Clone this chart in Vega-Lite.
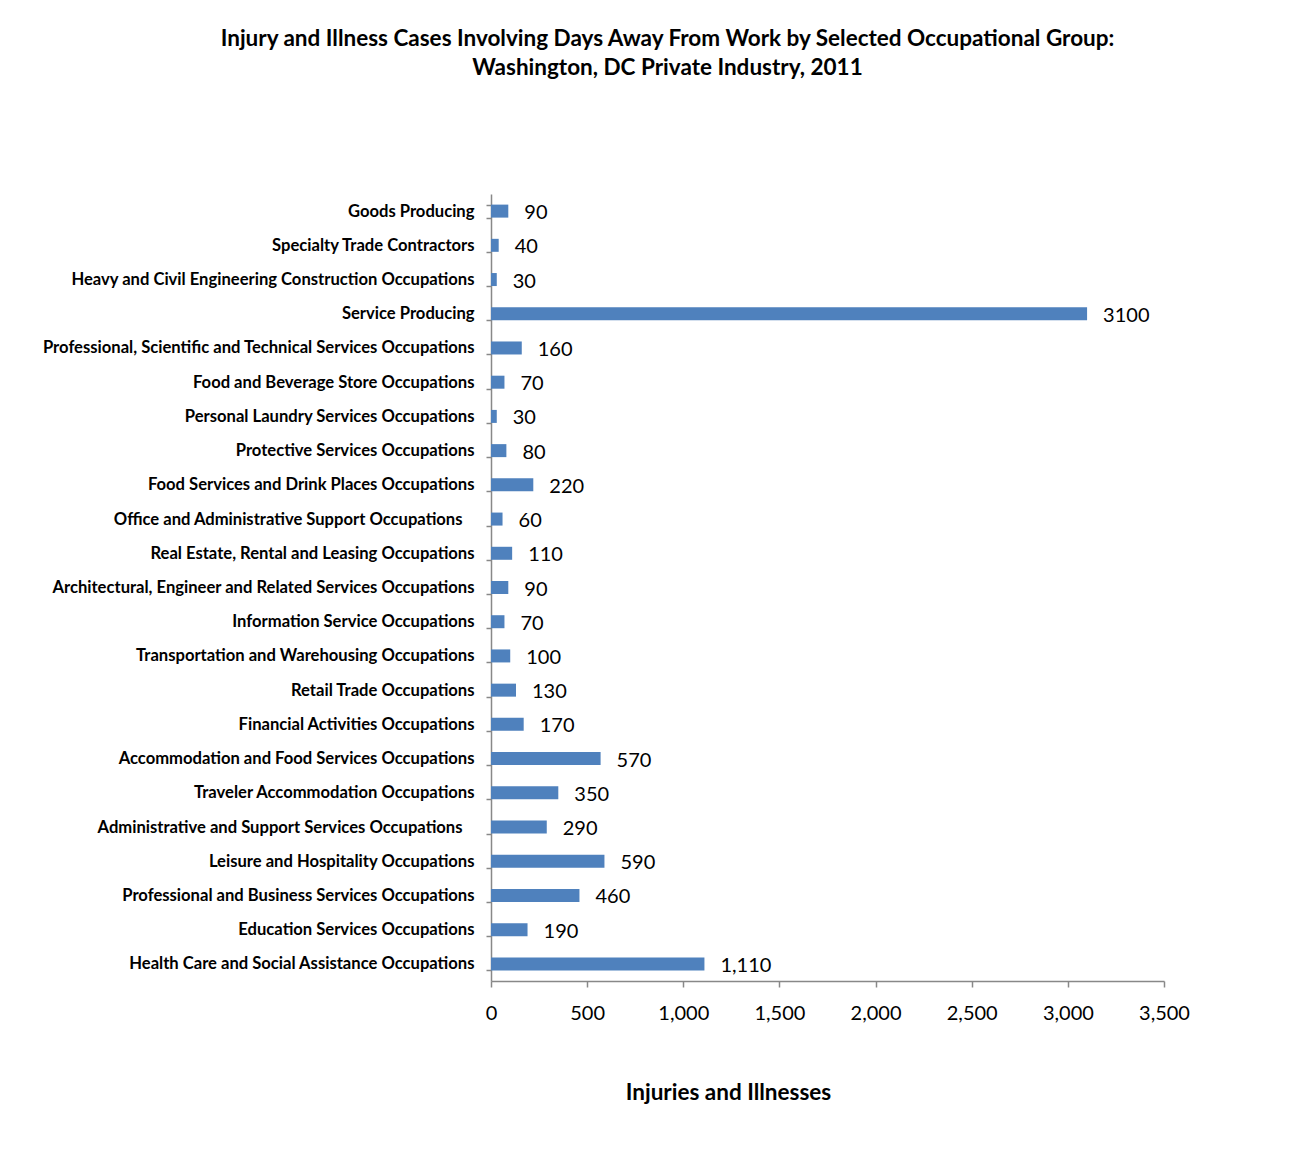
{
  "$schema": "https://vega.github.io/schema/vega-lite/v6.json",
  "autosize": "none",
  "width": 673,
  "height": 787,
  "padding": {"left": 491, "top": 194, "right": 133, "bottom": 189},
  "background": "white",
  "title": {
    "text": ["Injury and Illness Cases Involving Days Away From Work by Selected Occupational Group:", "Washington, DC Private Industry, 2011"],
    "font": "Lato",
    "fontSize": 22.5,
    "fontWeight": "bold",
    "color": "#000000",
    "anchor": "middle",
    "dx": -160,
    "offset": 107,
    "lineHeight": 29
  },
  "config": {
    "view": {"stroke": null},
    "font": "Lato"
  },
  "data": {
    "values": [
      {"group": "Goods Producing", "cases": 90, "label": "90"},
      {"group": "Specialty Trade Contractors", "cases": 40, "label": "40"},
      {"group": "Heavy and Civil Engineering Construction Occupations", "cases": 30, "label": "30"},
      {"group": "Service Producing", "cases": 3100, "label": "3100"},
      {"group": "Professional, Scientific and Technical Services Occupations", "cases": 160, "label": "160"},
      {"group": "Food and Beverage Store Occupations", "cases": 70, "label": "70"},
      {"group": "Personal Laundry Services Occupations", "cases": 30, "label": "30"},
      {"group": "Protective Services Occupations", "cases": 80, "label": "80"},
      {"group": "Food Services and Drink Places Occupations", "cases": 220, "label": "220"},
      {"group": "Office and Administrative Support Occupations", "cases": 60, "label": "60"},
      {"group": "Real Estate, Rental and Leasing Occupations", "cases": 110, "label": "110"},
      {"group": "Architectural, Engineer and Related Services Occupations", "cases": 90, "label": "90"},
      {"group": "Information Service Occupations", "cases": 70, "label": "70"},
      {"group": "Transportation and Warehousing Occupations", "cases": 100, "label": "100"},
      {"group": "Retail Trade Occupations", "cases": 130, "label": "130"},
      {"group": "Financial Activities Occupations", "cases": 170, "label": "170"},
      {"group": "Accommodation and Food Services Occupations", "cases": 570, "label": "570"},
      {"group": "Traveler Accommodation Occupations", "cases": 350, "label": "350"},
      {"group": "Administrative and Support Services Occupations", "cases": 290, "label": "290"},
      {"group": "Leisure and Hospitality Occupations", "cases": 590, "label": "590"},
      {"group": "Professional and Business Services Occupations", "cases": 460, "label": "460"},
      {"group": "Education Services Occupations", "cases": 190, "label": "190"},
      {"group": "Health Care and Social Assistance Occupations", "cases": 1110, "label": "1,110"}
    ]
  },
  "encoding": {
    "y": {
      "field": "group",
      "type": "nominal",
      "sort": null,
      "scale": {"paddingInner": 0.62, "paddingOuter": 0.31},
      "axis": {
        "title": null,
        "domainColor": "#888888",
        "domainWidth": 1.5,
        "tickColor": "#888888",
        "tickWidth": 1.5,
        "tickSize": 5,
        "tickBand": "extent",
        "labelFont": "Lato",
        "labelFontSize": 16.6,
        "labelFontWeight": "bold",
        "labelColor": "#000000",
        "labelPadding": 12,
        "labelLimit": 600,
        "labelExpr": "indexof(datum.label, 'Administrative') >= 0 ? datum.label + '\u2800' : datum.label"
      }
    }
  },
  "layer": [
    {
      "mark": {"type": "bar", "color": "#4F81BD"},
      "encoding": {
        "x": {
          "field": "cases",
          "type": "quantitative",
          "scale": {"domain": [0, 3500], "nice": false},
          "axis": {
            "title": "Injuries and Illnesses",
            "titleFont": "Lato",
            "titleFontSize": 22.5,
            "titleFontWeight": "bold",
            "titleColor": "#000000",
            "titleAnchor": "start",
            "titleAlign": "center",
            "titleX": 237,
            "titleY": 100,
            "values": [0, 500, 1000, 1500, 2000, 2500, 3000, 3500],
            "format": ",d",
            "grid": false,
            "domainColor": "#888888",
            "domainWidth": 1.5,
            "tickColor": "#888888",
            "tickWidth": 1.5,
            "tickSize": 6,
            "labelFont": "Lato",
            "labelFontSize": 20,
            "labelColor": "#000000",
            "labelPadding": 16,
            "labelFlush": false
          }
        }
      }
    },
    {
      "mark": {"type": "text", "align": "left", "baseline": "middle", "dx": 16, "dy": 2, "font": "Lato", "fontSize": 20, "color": "#000000"},
      "encoding": {
        "x": {"field": "cases", "type": "quantitative"},
        "text": {"field": "label", "type": "nominal"}
      }
    }
  ]
}
